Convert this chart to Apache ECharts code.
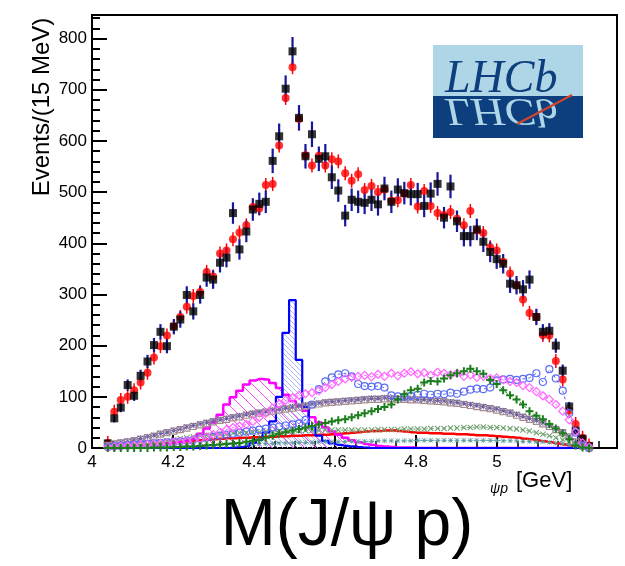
<!DOCTYPE html>
<html><head><meta charset="utf-8">
<script src="https://cdn.jsdelivr.net/npm/echarts@6/dist/echarts.min.js"></script>
<style>html,body{margin:0;padding:0;background:#fff}#c{width:625px;height:566px}</style>
</head><body><div id="c"></div>
<script>
// bin centres (GeV)
const centers = [4.039,4.055,4.071,4.088,4.104,4.120,4.137,4.153,4.169,4.185,
4.202,4.218,4.234,4.250,4.267,4.283,4.299,4.316,4.332,4.348,
4.364,4.381,4.397,4.413,4.429,4.446,4.462,4.478,4.495,4.511,
4.527,4.543,4.560,4.576,4.592,4.608,4.625,4.641,4.657,4.673,
4.690,4.706,4.722,4.739,4.755,4.771,4.787,4.804,4.820,4.836,
4.853,4.869,4.885,4.901,4.918,4.934,4.950,4.966,4.983,4.999,
5.015,5.032,5.048,5.064,5.080,5.097,5.113,5.129,5.145,5.162,
5.178,5.194,5.211,5.227];
// data (black squares)
const dataY = [9,58,79,123,102,141,169,201,227,199,
237,251,299,267,299,333,329,362,372,459,
388,423,466,477,481,561,609,702,775,645,
570,613,565,570,529,503,454,485,481,479,
485,476,507,481,505,498,496,496,473,497,
516,450,511,443,414,414,427,403,383,369,
360,321,318,310,329,256,227,229,200,151,
81,34,18,4];
const dataErr = [3,8,9,11,10,12,13,14,15,14,
15,16,17,16,17,18,18,19,19,21,
20,21,22,22,22,24,25,26,28,25,
24,25,24,24,23,22,21,22,22,22,
22,22,23,22,22,22,22,22,22,22,
23,21,23,21,20,20,21,20,20,19,
19,18,18,18,18,16,15,15,14,12,
9,6,4,2];
// fit (red points)
const fitY = [10,71,94,100,113,128,147,177,199,220,
238,256,276,297,305,344,335,380,386,408,
421,435,471,468,514,516,591,684,744,643,
572,552,571,552,564,560,537,522,535,504,
512,500,505,483,484,497,514,472,502,473,
459,455,461,448,435,463,425,420,392,386,
364,341,318,290,264,256,221,220,170,134,
73,47,20,5];
// Pc(4380) hatched magenta
const pc4380 = [0,0,1,1,2,3,4,5,6,8,
10,12,15,18,28,38,50,65,85,99,
112,124,132,135,134,127,117,104,92,82,
73,60,50,40,32,26,20,15,11,8,
6,4,3,2,1,1,1,0,0,0,
0,0,0,0,0,0,0,0,0,0,
0,0,0,0,0,0,0,0,0,0,
0,0,0,0];
// Pc(4450) hatched blue
const pc4450 = [0,0,0,0,0,0,0,0,0,0,
0,0,0,0,0,0,0,0,0,1,
2,4,10,16,30,52,100,225,289,172,
80,42,24,14,9,6,4,3,2,1,
0,0,0,0,0,0,0,0,0,0,
0,0,0,0,0,0,0,0,0,0,
0,0,0,0,0,0,0,0,0,0,
0,0,0,0];
// Lambda* components
const lamCircles = [2,3,4,5,6,7,8,9,10,11,
12,13,14,16,18,20,22,24,26,28,
30,32,34,36,38,40,42,44,46,48,
55,85,115,130,138,144,146,140,125,121,
120,121,118,103,101,100,102,104,106,104,
106,105,108,106,110,114,116,115,118,132,
134,135,133,135,137,146,129,154,136,112,
68,30,5,0];
const lamDiamonds = [1,2,3,4,5,6,7,8,9,10,
11,12,14,16,18,22,26,31,36,40,
43,46,52,60,68,78,86,93,98,103,
106,108,112,118,124,130,135,138,140,142,
139,144,140,146,141,146,149,145,147,142,
148,146,143,146,140,143,138,140,136,137,
133,130,128,122,118,110,102,95,85,72,
55,32,10,2];
const lamCross = [0,0,0,0,0,0,0,1,1,1,
2,2,3,3,4,5,6,7,8,9,
10,12,14,16,20,24,28,31,34,37,
40,43,46,49,52,54,56,60,64,68,
72,76,80,85,95,105,113,116,128,131,
130,136,142,146,150,155,150,145,133,125,
113,103,95,85,72,63,56,47,38,29,
17,5,1,0];
const lamSquares = [5,8,10,12,14,17,20,23,27,30,
33,36,39,42,45,48,51,54,56,59,
61,64,66,68,70,72,74,76,78,80,
82,84,86,88,89,90,91,92,93,94,
95,95,96,96,95,95,94,94,93,92,
91,90,88,87,85,83,81,79,77,74,
71,68,64,60,56,52,47,42,36,30,
22,12,4,0];
const lamStars = [6,9,11,13,16,19,22,25,28,31,
34,37,41,44,47,50,53,55,58,61,
63,66,68,70,72,74,76,78,80,82,
84,86,88,90,91,92,93,94,95,96,
97,97,98,97,97,96,96,95,95,94,
93,92,90,89,87,85,83,81,78,76,
73,70,66,62,58,54,49,44,38,31,
23,13,5,0];
const lamX = [1,2,3,4,5,6,8,10,12,14,
16,18,20,22,24,25,26,27,28,29,
30,30,31,31,32,32,33,33,33,34,
34,34,34,35,35,35,35,35,35,35,
35,36,36,36,36,37,37,37,37,38,
38,38,39,39,40,40,41,41,40,40,
39,38,37,35,33,30,27,24,20,16,
11,6,2,0];
const lamTeal = [1,1,2,2,2,3,3,3,4,4,
4,5,5,5,6,6,6,7,7,7,
8,8,8,9,9,9,10,10,10,11,
11,11,12,12,12,12,13,13,13,13,
13,14,14,14,14,14,14,15,15,15,
15,15,15,15,15,15,15,15,15,15,
14,14,14,13,13,12,12,11,10,9,
7,5,3,1];
const nonRes = [1,2,3,4,5,6,7,8,9,10,
11,12,13,14,15,16,17,18,19,19,
20,20,21,21,22,22,23,23,24,24,
25,25,26,26,27,28,29,30,31,32,
33,33,34,34,33,32,31,30,30,29,
29,28,28,27,27,26,25,25,24,23,
22,21,20,18,17,15,13,11,9,7,
5,3,1,0];

const FF = '"Liberation Sans", Arial, Helvetica, sans-serif';
const pts = arr => centers.map((c, i) => [c, arr[i]]);

function hatch(color, s, w) {
  const c = document.createElement('canvas');
  c.width = s; c.height = s;
  const g = c.getContext('2d');
  g.strokeStyle = color; g.lineWidth = w;
  g.beginPath();
  for (const o of [-s, 0, s]) { g.moveTo(o - 2, -2); g.lineTo(o + s + 2, s + 2); }
  g.stroke();
  return c;
}

const PLUS = 'path://M3,0H5V3H8V5H5V8H3V5H0V3H3Z';
const XS = 'path://M0,1L1,0L4,3L7,0L8,1L5,4L8,7L7,8L4,5L1,8L0,7L3,4Z';
const STAR = 'path://M3.5,0H4.5V8H3.5Z M0,3.5H8V4.5H0Z M0.7,0L8,7.3L7.3,8L0,0.7Z M7.3,0L8,0.7L0.7,8L0,7.3Z';

function markerLine(name, arr, symbol, size, color, open) {
  return {
    name, type: 'line', data: pts(arr), symbol, symbolSize: size,
    itemStyle: open ? { color: 'rgba(0,0,0,0)', borderColor: color, borderWidth: 1.2 } : { color },
    lineStyle: { color, width: 1, type: [3, 3] },
    silent: true
  };
}

const chart = echarts.init(document.getElementById('c'), null, { renderer: 'canvas' });
const option = {
  animation: false,
  backgroundColor: '#fff',
  grid: { left: 92, right: 8, top: 15, bottom: 118, show: true, borderColor: '#000', borderWidth: 2, backgroundColor: 'transparent' },
  xAxis: {
    type: 'value', min: 4, max: 5.296, interval: 0.2,
    axisLine: { lineStyle: { color: '#000', width: 2 } },
    axisTick: { inside: true, length: 13, lineStyle: { color: '#000', width: 2 } },
    minorTick: { show: true, splitNumber: 4, length: 7, lineStyle: { color: '#000', width: 1.5 } },
    splitLine: { show: false },
    axisLabel: { color: '#000', fontSize: 17, fontFamily: FF, margin: 6, showMaxLabel: false,
      formatter: v => (v > 5.1 ? '' : String(Math.round(v * 10) / 10)) }
  },
  yAxis: {
    type: 'value', min: 0, max: 846, interval: 100,
    axisLine: { lineStyle: { color: '#000', width: 2 } },
    axisTick: { inside: true, length: 15, lineStyle: { color: '#000', width: 2 } },
    minorTick: { show: true, splitNumber: 5, length: 8, lineStyle: { color: '#000', width: 2 } },
    splitLine: { show: false },
    axisLabel: { color: '#000', fontSize: 17, fontFamily: FF, margin: 5, showMaxLabel: false }
  },
  series: [
    markerLine('sq', lamSquares, 'rect', 6, '#a88c8c', true),
    markerLine('st', lamStars, STAR, 6, '#6b5fa5', false),
    markerLine('x', lamX, XS, 6, '#6e9e6e', false),
    markerLine('teal', lamTeal, STAR, 5, '#5f9ea0', false),
    { name: 'nr', type: 'line', step: 'middle', data: pts(nonRes), symbol: 'none',
      lineStyle: { color: '#ff0000', width: 2.5 } },
    markerLine('circ', lamCircles, 'circle', 7, '#5a6cf5', true),
    markerLine('dia', lamDiamonds, 'diamond', 8, '#ff66ff', true),
    markerLine('plus', lamCross, PLUS, 8, '#1b7d1b', false),
    { name: 'pc4380', type: 'line', step: 'middle', data: pts(pc4380), symbol: 'none',
      lineStyle: { color: '#ff00ff', width: 2.5 },
      areaStyle: { color: { image: hatch('#ff33ff', 11, 0.9), repeat: 'repeat' }, opacity: 1 } },
    { name: 'pc4450', type: 'line', step: 'middle', data: pts(pc4450), symbol: 'none',
      lineStyle: { color: '#0000ff', width: 2.2 },
      areaStyle: { color: { image: hatch('#a4aeff', 5, 0.9), repeat: 'repeat' }, opacity: 1 } },
    { name: 'fitbar', type: 'custom', data: pts(fitY), encode: { x: 0, y: 1 },
      renderItem: (p, api) => {
        const c = api.coord([api.value(0), api.value(1)]);
        return { type: 'line', shape: { x1: c[0], y1: c[1] - 7, x2: c[0], y2: c[1] + 7 },
          style: { stroke: '#ff0000', lineWidth: 1.5 } };
      } },
    { name: 'fit', type: 'scatter', data: pts(fitY), symbol: 'circle', symbolSize: 8,
      itemStyle: { color: '#ff0000' } },
    { name: 'err', type: 'custom', data: centers.map((c, i) => [c, dataY[i], dataErr[i]]), encode: { x: 0, y: 1 },
      renderItem: (p, api) => {
        const x = api.value(0), y = api.value(1), e = api.value(2);
        const a = api.coord([x, y - e]), b = api.coord([x, y + e]);
        return { type: 'line', shape: { x1: a[0], y1: a[1], x2: b[0], y2: b[1] },
          style: { stroke: '#16169c', lineWidth: 2.2 } };
      } },
    { name: 'data', type: 'scatter', data: pts(dataY), symbol: 'rect', symbolSize: 8,
      itemStyle: { color: '#000' } }
  ],
  graphic: [
    { type: 'text', x: 42, y: 107, rotation: Math.PI / 2,
      style: { text: 'Events/(15 MeV)', font: '24px ' + FF, fill: '#000', textAlign: 'center', textVerticalAlign: 'middle' } },
    { type: 'text', x: 490, y: 489,
      style: { text: 'ψp', font: 'italic 14px ' + FF, fill: '#000', textAlign: 'left', textVerticalAlign: 'middle' } },
    { type: 'text', x: 516, y: 481,
      style: { text: '[GeV]', font: '22px ' + FF, fill: '#000', textAlign: 'left', textVerticalAlign: 'middle' } },
    { type: 'text', x: 347, y: 527,
      style: { text: 'M(J/ψ p)', font: '66px ' + FF, fill: '#000', textAlign: 'center', textVerticalAlign: 'middle' } },
    // LHCb logo
    { type: 'rect', shape: { x: 433, y: 45, width: 150, height: 51 }, style: { fill: '#aed6e6' } },
    { type: 'rect', shape: { x: 433, y: 96, width: 150, height: 42 }, style: { fill: '#0d3f7e' } },
    { type: 'text', x: 445, y: 96,
      style: { text: 'LHCb', font: 'italic 46px "Liberation Serif", "DejaVu Serif", serif', fill: '#0d3f7e', x: 0, y: -16, textAlign: 'left', textVerticalAlign: 'middle' } },
    { type: 'text', x: 445, y: 96, scaleY: -0.85,
      style: { text: 'LHCb', font: 'italic 46px "Liberation Serif", "DejaVu Serif", serif', fill: '#aed6e6', x: 0, y: -16, textAlign: 'left', textVerticalAlign: 'middle' } },
    { type: 'line', shape: { x1: 517, y1: 124, x2: 572, y2: 95 }, style: { stroke: '#d2452a', lineWidth: 2 } }
  ]
};
chart.setOption(option);
</script></body></html>
